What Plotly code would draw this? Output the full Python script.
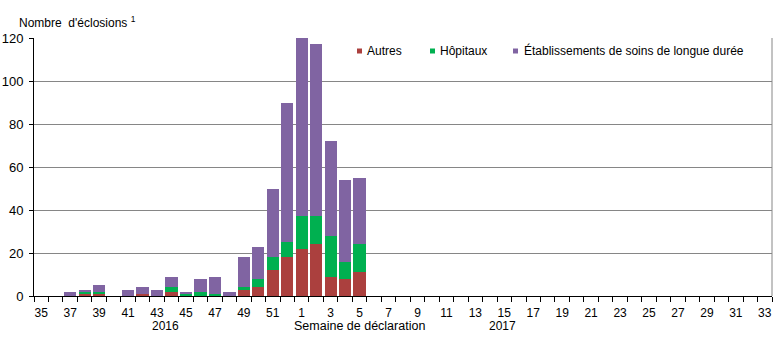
import plotly.graph_objects as go

# ---- data ----
weeks = ["35", "36", "37", "38", "39", "40", "41", "42", "43", "44", "45", "46",
         "47", "48", "49", "50", "51", "52",
         "1", "2", "3", "4", "5", "6", "7", "8", "9", "10", "11", "12", "13",
         "14", "15", "16", "17", "18", "19", "20", "21", "22", "23", "24", "25",
         "26", "27", "28", "29", "30", "31", "32", "33"]

autres = [0, 0, 0, 1, 1, 0, 0, 1, 0, 2, 0, 0, 0, 0, 3, 4, 12, 18,
          22, 24, 9, 8, 11] + [0] * 28
hopitaux = [0, 0, 0, 1, 1, 0, 0, 0, 0, 2, 1, 2, 1, 0, 1, 4, 6, 7,
            15, 13, 19, 8, 13] + [0] * 28
esld = [0, 0, 2, 1, 3, 0, 3, 3, 3, 5, 1, 6, 8, 2, 14, 15, 32, 65,
        83, 80, 44, 38, 31] + [0] * 28

tick_weeks = [w for w in weeks if int(w) % 2 == 1]

series_names = ["Autres", "Hôpitaux", "Établissements de soins de longue durée"]
colors = ["#AB403E", "#00B050", "#8064A2"]

y_title = "Nombre  d'éclosions <sup>1</sup>"
x_title = "Semaine de déclaration"
year_labels = ["2016", "2017"]

# ---- layout geometry (pixels) ----
W, H = 780, 350
L, R, T, B = 34, 8, 38, 54
pw, ph = W - L - R, H - T - B


def px(x):
    return (x - L) / pw


def py(y):
    return (H - B - y) / ph


FONT = "Liberation Sans, Arial, sans-serif"
n = len(weeks)

fig = go.Figure()
for name, vals, col in zip(series_names, [autres, hopitaux, esld], colors):
    fig.add_trace(go.Bar(x=weeks, y=vals, name=name, marker_color=col,
                         marker_line_width=0, showlegend=False))

fig.update_layout(
    width=W, height=H,
    margin=dict(l=L, r=R, t=T, b=B, pad=0, autoexpand=False),
    paper_bgcolor="white", plot_bgcolor="white",
    barmode="stack", bargap=0.15,
    font=dict(family=FONT, size=12, color="black"),
    xaxis=dict(type="category", categoryorder="array", categoryarray=weeks,
               range=[-0.5, n - 0.5], automargin=False,
               tickmode="array", tickvals=tick_weeks, ticktext=tick_weeks,
               tickangle=0, ticks="", ticklen=0, ticklabelstandoff=6,
               showline=True, linecolor="black",
               linewidth=1, showgrid=False, zeroline=False,
               tickfont=dict(size=12), fixedrange=True),
    # boundary tick marks between weeks (no labels)
    xaxis2=dict(type="linear", overlaying="x", side="bottom",
                range=[-0.5, n - 0.5], tickmode="linear", tick0=-0.5, dtick=1,
                ticks="outside", ticklen=5, tickcolor="black", automargin=False,
                showticklabels=False, showline=False, showgrid=False,
                zeroline=False, fixedrange=True),
    yaxis=dict(range=[0, 120], dtick=20, ticks="outside", ticklen=4,
               tickcolor="black", showline=True, linecolor="black",
               linewidth=1, showgrid=True, gridcolor="#868686",
               gridwidth=1, zeroline=False, tickfont=dict(size=13),
               ticklabelstandoff=3, automargin=False, fixedrange=True),
)

# invisible anchor so the boundary-tick axis is drawn
fig.add_trace(go.Scatter(x=[None], y=[None], xaxis="x2", yaxis="y",
                         showlegend=False, hoverinfo="skip", mode="markers"))

# right border of plot area
fig.add_shape(type="line", xref="paper", yref="paper", x0=1, x1=1, y0=0, y1=1,
              line=dict(color="#868686", width=1))

annotations = [
    dict(text=y_title, x=px(17), y=py(22), xanchor="left", yanchor="middle"),
    dict(text=year_labels[0], x=px(165), y=py(326), xanchor="center", yanchor="middle"),
    dict(text=x_title, x=px(359), y=py(326), xanchor="center", yanchor="middle",
         font_size=12.5),
    dict(text=year_labels[1], x=px(503), y=py(326), xanchor="center", yanchor="middle"),
]

# legend (squares + labels)
legend_sq_x = [357, 430, 513]
legend_tx_x = [365, 438, 522]
for name, col, sx, tx in zip(series_names, colors, legend_sq_x, legend_tx_x):
    fig.add_shape(type="rect", xref="paper", yref="paper",
                  x0=px(sx), x1=px(sx + 5), y0=py(48.5), y1=py(53.5),
                  fillcolor=col, line=dict(width=0))
    annotations.append(dict(text=name, x=px(tx), y=py(51), xanchor="left",
                            yanchor="middle"))

for a in annotations:
    size = a.pop("font_size", 12)
    a.update(xref="paper", yref="paper", showarrow=False,
             font=dict(family=FONT, size=size, color="black"))
fig.update_layout(annotations=annotations)

fig.write_html("out.html")
